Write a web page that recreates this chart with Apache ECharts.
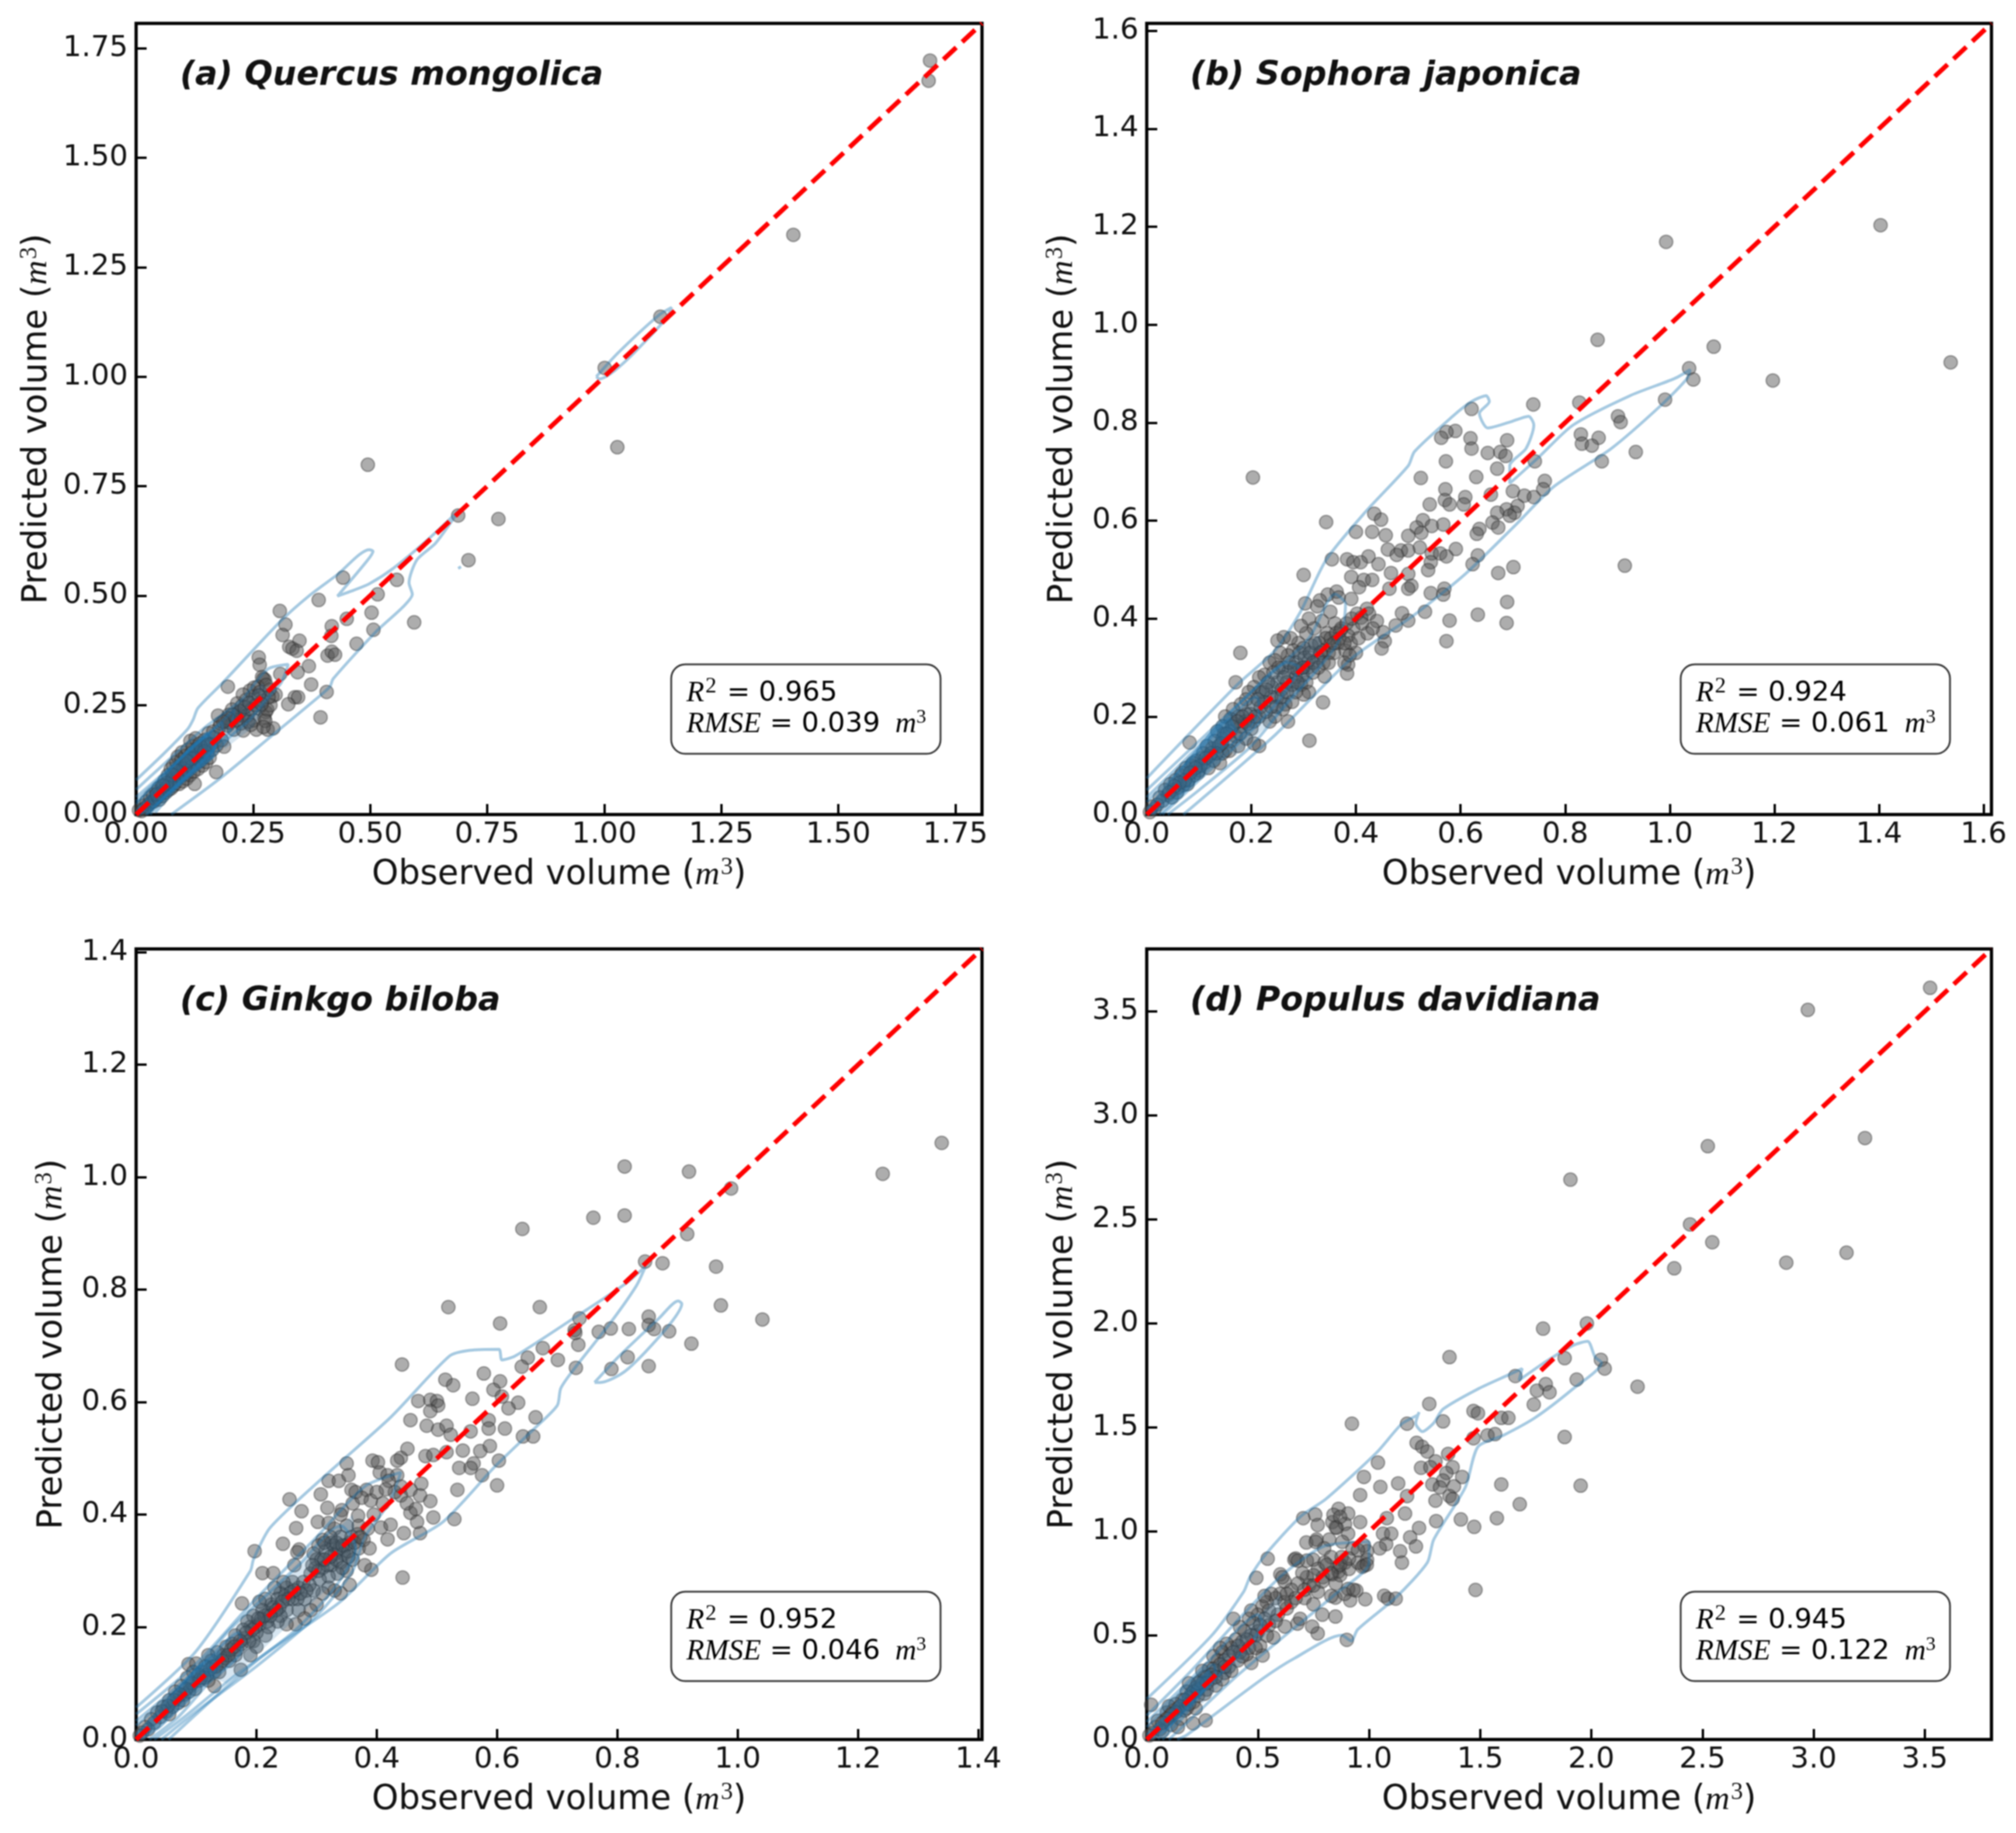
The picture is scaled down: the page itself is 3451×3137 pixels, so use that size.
<!DOCTYPE html>
<html><head><meta charset="utf-8">
<style>html,body{margin:0;padding:0;background:#fff}#c{width:3451px;height:3137px;filter:blur(1px)}</style>
<script src="https://cdn.jsdelivr.net/npm/echarts@6/dist/echarts.min.js"></script>
</head><body><div id="c"></div>
<script>
const panelTitles = ['(a) Quercus mongolica','(b) Sophora japonica','(c) Ginkgo biloba','(d) Populus davidiana'];
const r2Values = ['0.965','0.924','0.952','0.945'];
const rmseValues = ['0.039','0.061','0.046','0.122'];
const axisLimits = [1.807,1.615,1.406,3.8];
const quercusTicks = [0,0.25,0.5,0.75,1,1.25,1.5,1.75];
const sophoraTicks = [0,0.2,0.4,0.6,0.8,1,1.2,1.4,1.6];
const ginkgoTicks = [0,0.2,0.4,0.6,0.8,1,1.2,1.4];
const populusTicks = [0,0.5,1,1.5,2,2.5,3,3.5];
const tickDigits = [2,1,1,1];

const quercusPoints = [[1.696,1.722],[1.693,1.676],[1.404,1.324],[1.12,1.137],[1.001,1.02],[1.028,.839],[.495,.799],[.688,.683],[.774,.675],[.71,.581],
[.442,.541],[.557,.536],[.39,.49],[.516,.503],[.594,.439],[.503,.461],[.507,.422],[.45,.447],[.418,.43],[.307,.465],[.319,.434],[.313,.41],[.417,.408],[.349,.397],[.471,.39],[.327,.383],[.334,.379],[.343,.374],[.409,.363],[.418,.372],[.425,.365],[.262,.359],[.264,.342],[.369,.339],[.345,.325],[.308,.321],[.269,.314],[.275,.308],[.272,.31],[.374,.297],[.196,.292],[.407,.28],[.339,.268],[.346,.268],[.325,.252],[.394,.222],[.291,.27],[.298,.274],[.257,.194],[.281,.194],[.293,.197],[.262,.243],[.277,.234],[.274,.221],[.28,.24],
[.006,.01],[.012,.008],[.015,.02],[.018,.014],[.022,.03],[.024,.018],[.028,.024],[.03,.04],[.033,.028],[.036,.046],[.038,.03],[.041,.036],[.043,.052],[.046,.04],[.048,.06],[.05,.034],[.052,.048],[.055,.066],[.056,.042],[.059,.054],[.061,.078],[.063,.05],[.065,.062],[.068,.09],[.069,.056],[.071,.07],[.074,.104],[.075,.06],[.077,.08],[.079,.112],[.08,.066],[.082,.092],[.084,.072],[.086,.12],[.087,.082],[.089,.132],[.09,.1],[.092,.07],[.094,.11],[.095,.088],[.097,.126],[.098,.142],[.1,.076],[.101,.104],[.103,.092],[.105,.134],[.106,.114],[.108,.082],[.11,.148],[.111,.1],[.113,.124],[.115,.09],[.116,.168],[.118,.14],[.12,.11],[.121,.156],[.123,.098],[.125,.13],[.125,.07],[.127,.174],[.129,.118],[.13,.15],[.132,.104],[.134,.138],[.136,.162],[.137,.122],[.14,.146],[.142,.112],[.144,.13],[.146,.17],[.148,.154],[.15,.12],[.152,.14],[.155,.186],[.157,.13],[.16,.16],[.163,.148],[.165,.19],[.168,.176],[.171,.097],[.172,.158],[.175,.226],[.178,.2],[.18,.208],[.183,.17],[.188,.155],[.19,.215],[.195,.203],[.198,.228],[.2,.21],[.205,.24],[.209,.194],[.212,.222],[.216,.254],[.218,.232],[.224,.208],[.226,.248],[.229,.192],[.23,.225],[.235,.262],[.238,.226],[.24,.212],[.243,.283],[.246,.24],[.25,.27],[.252,.215],[.256,.25],[.26,.292],[.228,.274],[.252,.29],[.265,.28],[.285,.285],[.27,.26],[.287,.25],[.283,.268],
[.215,.216],[.222,.236],[.232,.245],[.206,.228],[.196,.22],[.186,.212],[.242,.255],[.262,.272],[.278,.296],[.268,.252],[.276,.214],[.272,.2],[.245,.205],[.128,.142],[.138,.155],[.118,.128],[.109,.122],[.146,.144],[.154,.16],[.086,.1],[.078,.09],[.066,.072],[.058,.066],[.044,.046]];

const sophoraPoints = [[1.403,1.203],[.993,1.169],[.862,.969],[1.084,.955],[1.537,.923],[1.037,.911],[1.045,.888],[1.197,.886],[.991,.847],[.827,.841],[.739,.837],[.621,.828],[.901,.813],[.906,.801],[.689,.764],[.83,.776],[.864,.769],[.832,.757],[.851,.753],[.87,.721],[.935,.74],[.914,.508],[.203,.688],[.742,.721],[.179,.33],[.343,.597],[.082,.147],[.311,.151],[.3,.489],
[.59,.783],[.573,.781],[.563,.769],[.619,.768],[.621,.747],[.652,.738],[.676,.74],[.686,.732],[.572,.721],[.67,.706],[.524,.687],[.63,.689],[.571,.664],[.761,.681],[.758,.664],[.7,.66],[.722,.651],[.74,.648],[.609,.648],[.658,.653],[.57,.642],[.579,.633],[.606,.633],[.541,.633],[.709,.63],[.688,.623],[.703,.616],[.67,.616],[.694,.61],[.661,.596],[.672,.586],[.435,.614],[.448,.602],[.528,.601],[.545,.589],[.516,.586],[.567,.592],[.636,.583],[.631,.573],[.4,.577],[.431,.577],[.457,.57],[.5,.569],[.525,.575],[.522,.545],[.461,.541],[.486,.539],[.5,.539],[.478,.53],[.591,.542],[.633,.529],[.545,.533],[.561,.533],[.573,.527],[.543,.515],[.424,.527],[.383,.521],[.354,.521],[.395,.515],[.409,.515],[.443,.511],[.623,.511],[.538,.499],[.467,.493],[.672,.493],[.701,.505],[.391,.485],[.415,.479],[.431,.479],[.5,.491],[.506,.467],[.5,.461],[.543,.452],[.569,.461],[.567,.449],[.464,.461],[.406,.464],[.303,.431],[.346,.449],[.363,.455],[.331,.437],[.326,.425],[.367,.443],[.351,.414],[.391,.44],[.421,.42],[.532,.414],[.689,.434],[.579,.396],[.633,.408],[.688,.391],[.573,.354],[.455,.354],[.449,.339],[.476,.386],[.5,.396],[.488,.411],[.452,.372],[.385,.306],[.383,.288],[.337,.229],[.34,.282],
[.425,.41],[.44,.395],[.41,.402],[.395,.38],[.385,.365],[.37,.375],[.36,.39],[.345,.37],[.335,.395],[.32,.38],[.31,.4],[.305,.37],[.295,.385],[.29,.35],[.28,.335],[.275,.36],[.262,.362],[.25,.355],[.3,.34],[.315,.345],[.33,.35],[.35,.345],[.365,.35],[.38,.335],[.4,.33],[.39,.35],[.405,.36],[.3,.3],[.31,.315],[.285,.31],[.27,.325],[.255,.33],[.245,.315],[.235,.31],[.225,.285],[.215,.28],[.26,.3],[.27,.29],[.285,.28],[.295,.265],[.305,.27],[.31,.25],[.3,.245],[.285,.25],[.27,.19],[.265,.225],[.25,.27],[.24,.26],[.25,.24],[.26,.215],[.245,.2],[.235,.19],[.225,.23],[.215,.25],[.205,.26],[.195,.25],[.19,.235],[.205,.225],[.215,.2],[.205,.19],[.2,.175],[.19,.205],[.18,.225],[.17,.27],[.175,.2],[.165,.215],[.16,.195],[.15,.2],[.145,.18],[.16,.17],[.17,.16],[.18,.18],[.19,.155],[.215,.14],[.205,.145],[.175,.14],[.16,.15],[.15,.13],[.145,.155],[.135,.17],[.125,.135],[.14,.105],[.145,.125],[.13,.15],[.12,.12],[.115,.14],[.11,.105],[.105,.115],[.1,.09],[.095,.11],[.09,.08],[.085,.1],[.08,.07],[.075,.095],[.07,.06],[.065,.08],[.06,.055],[.055,.07],[.05,.05],[.045,.062],[.04,.04],[.035,.05],[.03,.028],[.025,.035],[.02,.02],[.015,.012],[.01,.016],[.006,.005],[.048,.035],[.058,.045],[.068,.085],[.078,.062],[.088,.105],[.098,.085],[.108,.125],[.118,.095],[.128,.11],[.138,.14],[.148,.165],[.158,.13],[.168,.185],[.178,.165],[.188,.19],[.198,.205],[.208,.2],[.218,.22],[.228,.21],[.238,.24],[.248,.22],[.258,.255],[.268,.27],[.278,.265],[.288,.295],[.298,.285],[.308,.3],[.318,.29],[.328,.32],[.338,.335],[.348,.33],[.358,.33],[.368,.36],[.378,.31],[.388,.325],
[.222,.25],[.232,.27],[.242,.29],[.252,.3],[.262,.28],[.272,.31],[.282,.3],[.292,.33],[.302,.32],[.312,.33],[.322,.35],[.332,.33],[.342,.36],[.352,.36],[.362,.37],[.372,.38],[.382,.39],[.392,.4],[.402,.41],[.412,.39],[.422,.37],[.432,.38],[.212,.235],[.228,.255],[.238,.22],[.258,.24],[.268,.25],[.278,.23],[.288,.27],[.298,.3],[.318,.31],[.328,.3],[.338,.31],[.348,.31],[.358,.35],[.378,.35],[.183,.2],[.193,.185],[.173,.19],[.163,.18],[.153,.165],[.143,.145],[.133,.125],[.123,.125],[.113,.115],[.103,.1],[.093,.095],[.083,.085],[.073,.07],[.063,.065],[.053,.058],[.043,.045]];

const ginkgoPoints = [[1.339,1.061],[1.241,1.006],[.812,1.019],[.919,1.01],[.989,.98],[.812,.932],[.76,.928],[.642,.908],[.916,.899],[.846,.85],[.875,.847],[.964,.841],[.671,.769],[.519,.769],[.972,.772],[.605,.74],[1.041,.747],[.852,.752],[.737,.749],[.729,.728],[.769,.725],[.789,.731],[.819,.73],[.852,.737],[.861,.73],[.886,.726],[.923,.704],[.735,.702],[.73,.723],[.676,.696],[.701,.675],[.651,.679],[.641,.663],[.731,.661],[.79,.659],[.817,.68],[.852,.664],[.442,.667],[.578,.651],[.514,.64],[.527,.63],[.605,.637],[.594,.622],[.608,.61],[.559,.606],[.469,.602],[.489,.604],[.5,.602],[.635,.599],[.619,.589],[.664,.573],[.643,.539],[.66,.539],[.613,.553],[.586,.568],[.586,.553],[.556,.548],[.502,.594],[.489,.584],[.456,.568],[.483,.558],[.502,.551],[.516,.558],[.523,.542],[.516,.511],[.543,.514],[.481,.504],[.494,.506],[.572,.513],[.588,.522],[.603,.496],[.561,.491],[.537,.483],[.556,.483],[.575,.47],[.6,.452],[.534,.444],[.529,.392],[.494,.395],[.472,.367],[.456,.403],[.467,.387],[.445,.367],[.418,.356],[.443,.288],[.391,.302],[.451,.517],[.44,.501],[.434,.496],[.393,.496],[.402,.493],[.405,.475],[.418,.47],[.434,.47],[.474,.455],[.456,.444],[.44,.434],[.472,.434],[.489,.424],[.35,.491],[.32,.46],[.307,.436],[.337,.46],[.353,.47],[.358,.444],[.383,.444],[.255,.427],[.275,.406],[.266,.376],[.244,.348],[.271,.338],[.268,.333],[.197,.335],[.21,.296],[.228,.296],[.263,.31],[.295,.331],[.302,.387],[.318,.412],[.342,.408],[.369,.398],[.407,.377],[.423,.382],[.176,.242],[.174,.124],[.087,.134],
[.42,.46],[.43,.44],[.41,.42],[.395,.4],[.385,.375],[.37,.38],[.36,.42],[.35,.38],[.34,.4],[.33,.375],[.32,.385],[.31,.355],[.325,.35],[.34,.36],[.355,.35],[.37,.34],[.345,.33],[.33,.33],[.315,.335],[.3,.32],[.31,.305],[.325,.31],[.34,.315],[.35,.3],[.335,.295],[.32,.29],[.305,.285],[.29,.295],[.36,.32],[.38,.31],[.355,.275],[.34,.26],[.33,.265],[.32,.27],[.31,.26],[.295,.265],[.3,.24],[.29,.23],[.28,.25],[.27,.27],[.26,.28],[.25,.27],[.24,.26],[.245,.28],[.23,.27],[.235,.25],[.225,.24],[.26,.25],[.27,.23],[.28,.215],[.265,.205],[.25,.23],[.24,.22],[.25,.205],[.235,.21],[.22,.225],[.215,.25],[.21,.23],[.205,.245],[.195,.22],[.205,.205],[.22,.2],[.215,.185],[.2,.19],[.19,.2],[.185,.21],[.18,.18],[.195,.175],[.2,.165],[.19,.15],[.175,.17],[.165,.185],[.16,.17],[.15,.165],[.165,.15],[.155,.14],[.145,.15],[.135,.155],[.14,.135],[.13,.12],[.125,.14],[.12,.15],[.13,.095],[.12,.105],[.115,.13],[.11,.12],[.105,.105],[.1,.135],[.095,.12],[.09,.095],[.085,.11],[.08,.08],[.075,.095],[.07,.065],[.065,.085],[.06,.058],[.055,.07],[.05,.05],[.045,.058],[.04,.04],[.035,.048],[.03,.03],[.025,.036],[.02,.018],[.015,.022],[.01,.012],[.006,.007],[.055,.045],[.068,.075],[.078,.07],[.088,.085],[.098,.09],[.108,.11],[.118,.115],[.128,.13],[.138,.12],[.148,.145],[.158,.16],[.168,.16],[.178,.195],[.188,.175],[.198,.2],[.208,.215],[.218,.21],[.228,.235],[.238,.235],[.248,.255],[.258,.262],[.268,.25],[.278,.28],[.288,.275],[.298,.305],[.308,.32],[.318,.31],[.328,.345],[.338,.34],[.348,.345],[.358,.36],[.368,.365],[.378,.355],[.388,.34],[.365,.44],[.375,.43],[.39,.425],[.4,.44],[.415,.445],[.44,.45],[.45,.42],[.465,.41],
[.303,.345],[.313,.35],[.323,.36],[.333,.35],[.343,.345],[.353,.335],[.363,.35],[.373,.36],[.333,.32],[.343,.305],[.353,.325],[.323,.325],[.313,.32],[.303,.3],[.293,.31],[.283,.265],[.273,.26],[.263,.265],[.253,.25],[.243,.245],[.233,.23],[.223,.22],[.213,.22],[.203,.215],[.193,.195],[.183,.19],[.173,.175],[.163,.165],[.153,.15],[.143,.14],[.133,.13],[.123,.125],[.113,.11],[.103,.115],[.093,.1],[.083,.09],[.073,.08],[.063,.07],[.053,.06],[.043,.05]];

const populusPoints = [[3.524,3.613],[2.974,3.507],[3.231,2.891],[2.524,2.852],[1.906,2.691],[2.444,2.476],[2.544,2.39],[2.877,2.292],[3.148,2.34],[2.373,2.265],[1.98,2],[1.783,1.975],[1.362,1.838],[1.88,1.833],[2.043,1.825],[2.06,1.783],[2.208,1.696],[1.934,1.73],[1.795,1.708],[1.755,1.677],[1.812,1.669],[1.658,1.747],[1.741,1.61],[1.271,1.613],[1.333,1.529],[.923,1.518],[1.171,1.518],[1.47,1.579],[1.49,1.568],[1.595,1.546],[1.627,1.546],[1.88,1.454],[1.47,1.448],[1.533,1.462],[1.567,1.468],[1.214,1.426],[1.239,1.407],[1.262,1.384],[1.356,1.373],[1.299,1.337],[1.234,1.306],[1.276,1.309],[1.376,1.309],[1.419,1.262],[1.348,1.281],[1.333,1.245],[1.285,1.226],[1.319,1.212],[1.382,1.217],[1.362,1.17],[1.376,1.156],[1.299,1.148],[1.04,1.331],[.977,1.262],[.96,1.175],[1.051,1.214],[1.131,1.231],[1.171,1.17],[1.595,1.226],[1.952,1.22],[1.678,1.131],[1.575,1.064],[1.413,1.058],[1.302,1.05],[1.473,1.022],[1.225,1.017],[1.08,1.064],[1.162,1.086],[1.063,.989],[1.1,.989],[1.185,.972],[1.077,.939],[1.048,.919],[1.211,.928],[1.14,.905],[1.148,.85],[1.479,.719],[1.068,.691],[1.085,.677],[1.12,.677],[.983,.674],[.915,.669],[.943,.716],[.991,.864],[.96,1.045],[.704,1.064],[.758,1.081],[.769,1.031],[.863,1.109],[.835,1.045],[.906,1.086],[.855,1.017],[.892,1.036],[.906,.989],[.718,.947],[.764,.961],[.821,.961],[.798,.919],[.829,.877],[.892,.85],[.977,.836],[.991,.905],[.977,.933],[.926,.919],[.877,.877],[.835,.794],[.863,.808],[.792,.78],[.544,.869],[.493,.777],[.664,.864],[.601,.794],[.749,.864],[.906,.724],[.849,.682],[.849,.591],[.9,.479],[.769,.51],[.744,.543],[.678,.557],[.621,.543],[.521,.404],[.47,.368],[.265,.092],[.208,.078],[.02,.167],
[.85,1.02],[.84,1.08],[.87,1.07],[.88,.95],[.86,.83],[.8,.85],[.77,.82],[.75,.79],[.72,.78],[.7,.8],[.68,.75],[.65,.72],[.62,.76],[.6,.7],[.58,.68],[.56,.7],[.54,.66],[.52,.64],[.5,.6],[.48,.56],[.46,.58],[.44,.52],[.42,.54],[.4,.48],[.38,.44],[.36,.46],[.34,.42],[.32,.38],[.3,.4],[.28,.34],[.26,.3],[.24,.28],[.22,.25],[.2,.22],[.18,.23],[.16,.19],[.14,.15],[.12,.14],[.1,.11],[.08,.09],[.06,.05],[.04,.06],[.025,.03],[.012,.02],[.05,.09],[.07,.04],[.09,.13],[.11,.07],[.13,.17],[.15,.1],[.17,.14],[.19,.27],[.21,.18],[.23,.21],[.25,.33],[.27,.24],[.29,.29],[.31,.26],[.33,.44],[.35,.32],[.37,.35],[.39,.58],[.41,.38],[.43,.47],[.45,.41],[.47,.62],[.49,.5],[.51,.45],[.53,.69],[.55,.55],[.57,.49],[.59,.6],[.61,.78],[.63,.63],[.65,.66],[.67,.87],[.69,.58],[.71,.68],[.73,.74],[.75,.65],[.77,.71],[.79,.6],[.81,.84],[.83,.69],[.85,.75],[.87,.79],[.89,.7],[.91,.82],[.93,.72],[.95,.85],[.97,.83],[.99,.84],[.76,.95],[.72,.86],[.68,.86],[.62,.66],[.58,.57],[.54,.5],[.5,.52],[.46,.44],[.42,.42],[.38,.33],[.34,.29],[.3,.34],[.26,.22],[.22,.15],[.18,.15],[.14,.06],[.1,.16],
[.55,.62],[.53,.58],[.51,.55],[.47,.5],[.45,.48],[.41,.45],[.37,.4],[.35,.38],[.33,.36],[.31,.33],[.29,.31],[.27,.3],[.25,.27],[.23,.24],[.21,.23],[.19,.2],[.17,.19],[.15,.16],[.13,.13],[.11,.12],[.09,.1],[.07,.08],[.49,.44],[.43,.4],[.39,.42],[.35,.35],[.31,.3],[.27,.27],[.23,.27],[.19,.17],[.63,.7],[.67,.68],[.71,.72],[.75,.74],[.79,.76],[.83,.8],[.87,.84],[.91,.87],[.95,.91]];

const quercusContours = [
[[0,.079],[.06,.14],[.11,.195],[.122,.217],[.132,.243],[.185,.301],[.31,.443],[.37,.5],[.43,.548],[.498,.605],[.506,.601],[.493,.579],[.435,.505],[.43,.499],[.464,.512],[.498,.527],[.55,.563],[.62,.625],[.69,.695],[.64,.62],[.6,.582],[.583,.529],[.59,.503],[.57,.474],[.512,.417],[.421,.31],[.414,.292],[.387,.266],[.291,.181],[.18,.083],[.075,0]],
[[.983,1],[1.03,1.055],[1.116,1.14],[1.144,1.158],[1.13,1.13],[1.04,1.03],[.99,.995],[.983,1]],
[[.688,.562],[.694,.566]],
[[0,.057],[.05,.106],[.147,.199],[.224,.261],[.281,.332],[.325,.343],[.31,.301],[.281,.266],[.243,.217],[.195,.172],[.161,.128],[.099,.075],[.041,.004]],
[[0,.04],[.07,.105],[.17,.2],[.21,.24],[.2,.19],[.13,.11],[.07,.05],[.03,0]],
[[0,.03],[.065,.098],[.14,.172],[.185,.21],[.178,.168],[.12,.1],[.06,.04],[.024,0]],
[[0,.024],[.06,.09],[.13,.165],[.17,.188],[.165,.145],[.105,.085],[.05,.03],[.02,0]]];

const sophoraContours = [
[[0,.074],[.173,.265],[.246,.336],[.294,.414],[.343,.52],[.42,.62],[.5,.712],[.512,.741],[.585,.813],[.621,.843],[.649,.855],[.655,.843],[.636,.819],[.652,.789],[.694,.801],[.73,.813],[.74,.795],[.725,.747],[.694,.712],[.694,.676],[.75,.73],[.815,.795],[.924,.855],[1.009,.89],[1.039,.908],[1.033,.89],[.985,.837],[.888,.747],[.779,.67],[.706,.592],[.609,.491],[.512,.408],[.391,.318],[.246,.163],[.07,0]],
[[0,.05],[.12,.17],[.23,.28],[.31,.36],[.36,.45],[.38,.43],[.37,.36],[.33,.3],[.27,.23],[.2,.14],[.1,.05],[.04,0]],
[[0,.035],[.1,.14],[.19,.24],[.27,.31],[.29,.3],[.25,.23],[.18,.15],[.09,.06],[.03,0]],
[[0,.026],[.09,.12],[.16,.2],[.21,.24],[.215,.21],[.16,.14],[.08,.055],[.024,0]]];

const ginkgoContours = [
[[0,.057],[.098,.155],[.19,.3],[.195,.32],[.223,.377],[.315,.47],[.423,.573],[.521,.682],[.554,.692],[.603,.694],[.608,.675],[.63,.682],[.727,.749],[.814,.811],[.847,.842],[.831,.806],[.787,.739],[.733,.666],[.706,.625],[.7,.594],[.662,.553],[.597,.486],[.51,.387],[.423,.331],[.337,.243],[.206,.145],[.054,0]],
[[.762,.635],[.803,.682],[.869,.749],[.901,.78],[.907,.775],[.879,.728],[.814,.656],[.771,.635],[.762,.635]],
[[0,.045],[.1,.135],[.19,.24],[.3,.36],[.38,.45],[.44,.475],[.42,.42],[.38,.36],[.36,.3],[.3,.22],[.2,.13],[.1,.05],[.042,0]],
[[0,.033],[.09,.115],[.16,.2],[.27,.31],[.34,.38],[.365,.34],[.33,.27],[.26,.19],[.16,.11],[.08,.04],[.03,0]],
[[0,.025],[.08,.1],[.13,.155],[.17,.19],[.175,.16],[.12,.1],[.07,.04],[.022,0]]];

const populusContours = [
[[0,.195],[.293,.501],[.436,.71],[.464,.78],[.536,.891],[.692,1.072],[.806,1.156],[1.034,1.379],[1.148,1.518],[1.219,1.56],[1.225,1.574],[1.21,1.52],[1.24,1.48],[1.29,1.52],[1.333,1.588],[1.49,1.685],[1.632,1.755],[1.689,1.783],[1.675,1.727],[1.8,1.82],[1.917,1.894],[1.983,1.914],[2.017,1.838],[2.046,1.811],[1.917,1.685],[1.746,1.546],[1.604,1.462],[1.49,1.407],[1.433,1.212],[1.291,.961],[1.262,.85],[1.12,.682],[.949,.529],[.92,.474],[.877,.501],[.664,.39],[.521,.292],[.18,.022],[.137,0]],
[[0,.115],[.2,.33],[.45,.62],[.62,.8],[.8,.93],[1,.95],[1,.85],[.85,.7],[.6,.48],[.4,.3],[.2,.1],[.1,0]],
[[0,.085],[.15,.24],[.3,.4],[.42,.54],[.5,.6],[.52,.56],[.42,.41],[.28,.26],[.15,.09],[.07,0]],
[[0,.06],[.12,.19],[.22,.3],[.3,.36],[.31,.31],[.22,.2],[.12,.08],[.05,0]]];

const quercusCore = [[0,.012],[.05,.075],[.11,.15],[.15,.19],[.175,.175],[.165,.13],[.11,.08],[.05,.025],[.012,0],[0,0]];
const sophoraCore = [[0,.015],[.06,.09],[.13,.18],[.16,.2],[.175,.17],[.13,.11],[.06,.035],[.015,0],[0,0]];
const ginkgoCore = [[0,.012],[.05,.07],[.1,.13],[.14,.16],[.14,.125],[.09,.07],[.04,.02],[.012,0],[0,0]];
const populusCore = [[0,.03],[.1,.14],[.2,.27],[.28,.34],[.3,.29],[.2,.16],[.1,.05],[.03,0],[0,0]];
const quercusHalo = [[.17,.19],[.21,.245],[.27,.3],[.29,.27],[.25,.2],[.19,.15]];
const sophoraHalo = [[.13,.16],[.25,.3],[.33,.37],[.34,.31],[.27,.22],[.17,.12]];
const ginkgoHalo = [[.1,.12],[.2,.24],[.36,.4],[.37,.32],[.26,.21],[.15,.1]];
const populusHalo = [[.2,.24],[.42,.5],[.6,.7],[.6,.58],[.42,.36],[.25,.17]];

const panelPoints = [quercusPoints,sophoraPoints,ginkgoPoints,populusPoints];
const panelContours = [quercusContours,sophoraContours,ginkgoContours,populusContours];
const panelCores = [quercusCore,sophoraCore,ginkgoCore,populusCore];
const panelHalos = [quercusHalo,sophoraHalo,ginkgoHalo,populusHalo];
const panelTicks = [quercusTicks,sophoraTicks,ginkgoTicks,populusTicks];
const panelRects = [[233,40,1448,1354],[1963,40,1446,1354],[233,1624,1448,1353],[1963,1624,1446,1353]];
const yNameGaps = [135,109,109,109];
const boxRects = [[1149,1137,461,153],[2877,1137,461,153],[1149,2724,461,153],[2877,2724,461,153]];
const titleOrigins = [[308,130],[2037,130],[308,1714],[2037,1714]];

const SANS='"DejaVu Sans"', SERIF='"Liberation Serif"';
const nameRich={n:{fontFamily:SANS,fontSize:58,color:'#111'},i:{fontFamily:SERIF,fontStyle:'italic',fontSize:58,color:'#111'},s:{fontFamily:SERIF,fontSize:42,color:'#111',padding:[0,0,26,2]}};
const boxRich={n:{fontFamily:SANS,fontSize:47,color:'#111'},i:{fontFamily:SERIF,fontStyle:'italic',fontSize:50,color:'#111'},s:{fontFamily:SERIF,fontSize:34,color:'#111',padding:[0,0,24,0]},r:{fontFamily:SERIF,fontSize:38,color:'#111',padding:[0,18,24,2]},g:{fontFamily:SERIF,fontSize:20,color:'#111',padding:[0,0,0,6]}};

function polygonSeries(points,i,fill){
  return {type:'custom',xAxisIndex:i,yAxisIndex:i,data:points,silent:true,z:3,clip:true,
    encode:{x:0,y:1},
    renderItem:(params,api)=>{
      if(params.dataIndex!==0) return {type:'group',children:[]};
      return {type:'polygon',shape:{points:points.map(p=>api.coord(p))},style:{fill:fill}};
    }};
}

const grids=[],xAxes=[],yAxes=[],series=[],graphics=[];
panelRects.forEach((r,i)=>{
  const lim=axisLimits[i], d=tickDigits[i], t=panelTicks[i];
  grids.push({left:r[0],top:r[1],width:r[2],height:r[3],show:true,borderColor:'#000',borderWidth:5.5,backgroundColor:'#fff'});
  const base=(nm)=>({type:'value',gridIndex:i,min:0,max:lim,splitLine:{show:false},axisLine:{show:false},
    axisTick:{show:true,inside:true,length:18,lineStyle:{color:'#000',width:4},customValues:t},
    minorTick:{show:false},name:nm,nameLocation:'middle',nameTextStyle:{rich:nameRich}});
  xAxes.push(Object.assign(base('{n|Observed volume (}{i|m}{s|3}{n|)}'),{nameGap:70,
    axisLabel:{customValues:t,margin:10,fontFamily:SANS,fontSize:50,color:'#111',formatter:v=>v.toFixed(d)}}));
  yAxes.push(Object.assign(base('{n|Predicted volume (}{i|m}{s|3}{n|)}'),{nameGap:yNameGaps[i],nameRotate:90,
    axisLabel:{customValues:t,margin:14,fontFamily:SANS,fontSize:50,color:'#111',formatter:v=>v.toFixed(d)}}));
  series.push({type:'scatter',xAxisIndex:i,yAxisIndex:i,data:panelPoints[i],symbol:'circle',symbolSize:23,silent:true,z:2,
    itemStyle:{color:'rgba(80,80,80,0.47)',borderColor:'rgba(40,40,40,0.42)',borderWidth:2,opacity:1}});
  series.push(polygonSeries(panelHalos[i],i,'rgba(31,119,180,0.18)'));
  series.push(polygonSeries(panelCores[i],i,'rgba(31,119,180,0.5)'));
  panelContours[i].forEach(c=>series.push({type:'line',xAxisIndex:i,yAxisIndex:i,data:c,showSymbol:false,silent:true,smooth:0.25,z:3,
    lineStyle:{color:'rgba(31,119,180,0.4)',width:5}}));
  series.push({type:'line',xAxisIndex:i,yAxisIndex:i,data:[[0,0],[lim,lim]],showSymbol:false,silent:true,z:4,
    lineStyle:{color:'#ff0000',width:8,type:[30,14],cap:'butt'}});
  const b=boxRects[i];
  graphics.push({type:'rect',shape:{x:b[0],y:b[1],width:b[2],height:b[3],r:24},style:{fill:'#fff',stroke:'#333',lineWidth:3},z:10});
  graphics.push({type:'text',x:b[0]+26,y:b[1]+50,z:11,style:{text:'{i|R}{r|2}{n|= '+r2Values[i]+'}',rich:boxRich,verticalAlign:'middle',align:'left'}});
  graphics.push({type:'text',x:b[0]+26,y:b[1]+103,z:11,style:{text:'{i|RMSE}{n| = '+rmseValues[i]+' }{g| }{i|m}{s|3}',rich:boxRich,verticalAlign:'middle',align:'left'}});
  graphics.push({type:'text',x:titleOrigins[i][0],y:titleOrigins[i][1],z:11,style:{text:panelTitles[i],font:'italic bold 57px "DejaVu Sans"',fill:'#111',verticalAlign:'middle',align:'left'}});
});
const chart=echarts.init(document.getElementById('c'),null,{renderer:'canvas',width:3451,height:3137});
chart.setOption({animation:false,backgroundColor:'#fff',grid:grids,xAxis:xAxes,yAxis:yAxes,series:series,graphic:graphics});
</script></body></html>
